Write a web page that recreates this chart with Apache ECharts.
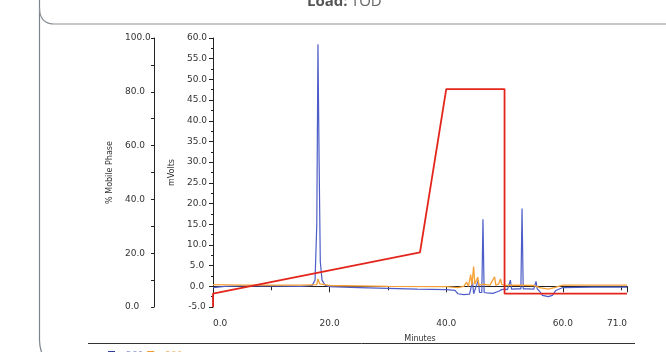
<!DOCTYPE html>
<html>
<head>
<meta charset="utf-8">
<script src="https://cdn.jsdelivr.net/npm/echarts@6/dist/echarts.min.js"></script>
<style>
html,body{margin:0;padding:0;background:#fff;}
#c{width:666px;height:352px;}
</style>
</head>
<body>
<div id="c"></div>
<script>
// Minutes ticks / axis ranges
const xTicks = [0, 20, 40, 60, 71];
const mvTicks = [-5, 60, 5];
const pctTicks = [0, 100, 20];

// 260 nm trace (blue): [minutes, mV]
const trace260 = [
  [0,-0.3],[2,0],[5,0.1],[10,0.1],[15,0],[17,0.2],[17.5,1.5],[17.8,15],[18.0,58.5],[18.2,30],[18.4,6],
  [18.7,1.5],[19.2,0.3],[20,-0.1],[25,-0.3],[30,-0.5],[35,-0.7],[40,-0.8],[41.5,-1],[42,-1.8],[43,-2],
  [44,-1.9],[44.5,1.2],[44.7,-1.8],[45,-1.5],[45.5,1.5],[45.7,-1.5],[46.1,-1.5],[46.3,16.2],[46.5,-1.5],
  [47,-1.6],[48,-1.7],[49,-1.2],[49.5,-0.8],[50,-0.7],[50.5,-0.8],[51,1.5],[51.2,-0.7],[52,-0.6],
  [52.8,-0.6],[53,18.8],[53.2,-0.6],[54,-0.6],[55,-0.7],[55.4,1.2],[55.6,-0.6],[56,-1.2],[56.5,-2.2],
  [57.5,-2.5],[58.2,-2.2],[58.8,-1],[60,-0.3],[65,-0.2],[71,-0.2]
];

// 280 nm trace (orange): [minutes, mV]
const trace280 = [
  [0,0.4],[5,0.3],[10,0.3],[15,0.3],[17.8,0.4],[18,1.8],[18.3,0.6],[20,0.2],[30,0],[40,-0.1],[42,-0.3],
  [43,0],[43.5,1],[43.8,0],[44.2,2.8],[44.4,0.3],[44.7,4.8],[44.9,0.5],[45.4,2.2],[45.6,0.2],[46.2,0.5],
  [47.5,0.3],[48.3,2.3],[48.5,0.3],[49,0.6],[49.3,1.8],[49.5,0.5],[50,0.2],[52,0.3],[55,0.2],[56,-0.3],
  [57.5,-0.7],[58.5,-0.3],[60,0.3],[71,0.3]
];

// Mobile phase gradient (red): [minutes, %]
const gradient = [[0,0],[0,5],[35.5,20.3],[40,81],[50,81],[50,5],[71,5]];

const seriesNames = ['260', '280', 'Gradient'];

const chart = echarts.init(document.getElementById('c'), null, {renderer:'canvas'});
const axisFont = {fontFamily:'DejaVu Sans', fontSize:9, color:'#333'};
const nameFont = {fontFamily:'DejaVu Sans', fontSize:8, color:'#333'};
const fmt = v => v.toFixed(1);

chart.setOption({
  animation:false,
  backgroundColor:'#fff',
  grid:{left:213, right:39, top:38, bottom:45},
  legend:{
    left:103, top:346, itemWidth:7, itemHeight:10, itemGap:4, icon:'rect',
    textStyle:{fontFamily:'DejaVu Sans', fontSize:9, padding:[0,0,0,6]},
    data:[
      {name:seriesNames[0], itemStyle:{color:'#2c3e9a'}, textStyle:{color:'#8a96cc'}},
      {name:seriesNames[1], itemStyle:{color:'#f39a2a'}, textStyle:{color:'#f2b878'}}
    ]
  },
  xAxis:{
    type:'value', min:xTicks[0], max:xTicks[xTicks.length-1], interval:xTicks[1]-xTicks[0],
    name:'Minutes', nameLocation:'middle', nameGap:28,
    nameTextStyle:nameFont,
    axisLine:{lineStyle:{color:'#222', width:1}},
    axisTick:{length:6, lineStyle:{color:'#222'}},
    minorTick:{show:true, splitNumber:2, length:4, lineStyle:{color:'#222'}},
    splitLine:{show:false},
    axisLabel:Object.assign({margin:12, formatter:fmt, showMaxLabel:true, showMinLabel:true, alignMinLabel:'left', alignMaxLabel:'right'}, axisFont)
  },
  yAxis:[
    {
      type:'value', position:'left', min:mvTicks[0], max:mvTicks[1], interval:mvTicks[2],
      name:'mVolts', nameLocation:'middle', nameGap:30, nameRotate:90,
      nameTextStyle:nameFont,
      axisLine:{show:true, lineStyle:{color:'#222'}},
      axisTick:{show:true, length:4, lineStyle:{color:'#222'}},
      minorTick:{show:true, splitNumber:2, length:2, lineStyle:{color:'#222'}},
      splitLine:{show:false},
      axisLabel:Object.assign({margin:16, align:'center', formatter:fmt}, axisFont)
    },
    {
      type:'value', position:'left', offset:59, min:pctTicks[0], max:pctTicks[1], interval:pctTicks[2],
      name:'% Mobile Phase', nameLocation:'middle', nameGap:37, nameRotate:90,
      nameTextStyle:nameFont,
      axisLine:{show:true, lineStyle:{color:'#222'}},
      axisTick:{show:true, length:3, lineStyle:{color:'#222'}},
      minorTick:{show:true, splitNumber:2, length:3, lineStyle:{color:'#222'}},
      splitLine:{show:false},
      axisLabel:Object.assign({margin:29, align:'left', formatter:fmt}, axisFont)
    }
  ],
  series:[
    {name:seriesNames[0], type:'line', yAxisIndex:0, data:trace260, showSymbol:false, symbol:'none',
     lineStyle:{color:'#4c5cc8', width:1.2}, itemStyle:{color:'#2c3e9a'}, z:2},
    {name:seriesNames[1], type:'line', yAxisIndex:0, data:trace280, showSymbol:false, symbol:'none',
     lineStyle:{color:'#f5a035', width:1.3}, itemStyle:{color:'#f39a2a'}, z:3},
    {name:seriesNames[2], type:'line', yAxisIndex:1, data:gradient, showSymbol:false, symbol:'none',
     lineStyle:{color:'#e3261c', width:1.8}, itemStyle:{color:'#e3261c'}, z:4}
  ],
  graphic:[
    {type:'line', shape:{x1:39.5, y1:0, x2:39.5, y2:340}, style:{stroke:'#7d848b', lineWidth:1.2}, silent:true},
    {type:'bezierCurve', shape:{x1:39.5, y1:340, cpx1:39.5, cpy1:352, x2:46, y2:360}, style:{fill:null, stroke:'#7d848b', lineWidth:1.2}, silent:true},
    {type:'bezierCurve', shape:{x1:39.5, y1:8, cpx1:39.5, cpy1:24, x2:55, y2:24}, style:{fill:null, stroke:'#8a9096', lineWidth:1.2}, silent:true},
    {type:'line', shape:{x1:55, y1:24, x2:666, y2:24}, style:{stroke:'#8a9096', lineWidth:1.2}, silent:true},
    {type:'line', shape:{x1:88, y1:343.5, x2:635, y2:343.5}, style:{stroke:'#333', lineWidth:1}, silent:true},
    {type:'text', x:307, y:2, silent:true, style:{
      text:'{b|Load:} {n|TOD}', verticalAlign:'middle', align:'left',
      rich:{b:{fontFamily:'Open Sans', fontSize:15, fontWeight:'bold', fill:'#555'}, n:{fontFamily:'Open Sans', fontSize:15, fill:'#666'}}
    }}
  ]
});
</script>
</body>
</html>
